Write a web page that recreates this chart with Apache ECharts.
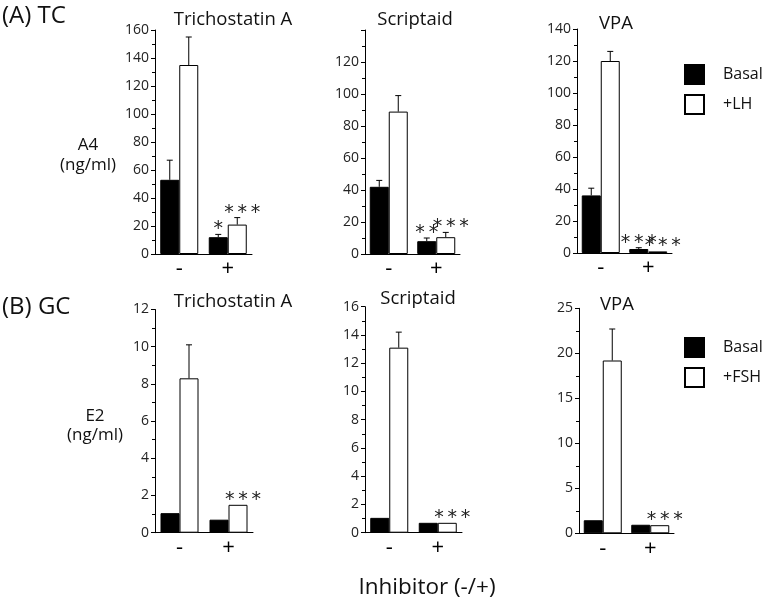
<!DOCTYPE html>
<html>
<head>
<meta charset="utf-8">
<script src="https://cdn.jsdelivr.net/npm/echarts@6/dist/echarts.min.js"></script>
<style>html,body{margin:0;padding:0;background:#fff;}#c{width:764px;height:606px;}</style>
</head>
<body>
<div id="c"></div>
<script>
// ---------- data ----------
const categories = ['-', '+'];
const inhibitors = ['Trichostatin A', 'Scriptaid', 'VPA'];

// (A) TC : A4 (ng/ml)
const tcTsaBasal = [53, 12];      const tcTsaBasalErr = [14, 2];
const tcTsaLH = [135, 21];        const tcTsaLHErr = [20, 5];
const tcScrBasal = [42, 8];       const tcScrBasalErr = [4, 2];
const tcScrLH = [89, 10.5];       const tcScrLHErr = [10, 3];
const tcVpaBasal = [36, 2.5];     const tcVpaBasalErr = [4.5, 0.8];
const tcVpaLH = [120, 1];         const tcVpaLHErr = [6, 0];
const tcStarsBasal = [['', '*'], ['', '**'], ['', '***']];
const tcStarsLH = [['', '***'], ['', '***'], ['', '***']];
const tcTicks = [{max: 160, step: 20}, {max: 140, step: 20, hideTop: true}, {max: 140, step: 20}];

// (B) GC : E2 (ng/ml)
const gcTsaBasal = [1.05, 0.7];   const gcTsaBasalErr = [0, 0];
const gcTsaFSH = [8.3, 1.5];      const gcTsaFSHErr = [1.8, 0];
const gcScrBasal = [1.05, 0.7];   const gcScrBasalErr = [0, 0];
const gcScrFSH = [13.1, 0.7];     const gcScrFSHErr = [1.1, 0];
const gcVpaBasal = [1.45, 0.95];  const gcVpaBasalErr = [0, 0];
const gcVpaFSH = [19.2, 0.9];     const gcVpaFSHErr = [3.5, 0];
const gcStarsBasal = [['', ''], ['', ''], ['', '']];
const gcStarsFSH = [['', '***'], ['', '***'], ['', '***']];
const gcTicks = [{max: 12, step: 2}, {max: 16, step: 2}, {max: 25, step: 5}];

// ---------- layout ----------
const FONT = '"Open Sans", Lato, sans-serif';
const grids = [
  {left: 155, top: 30,  width: 97, height: 224},
  {left: 365, top: 30,  width: 95, height: 224},
  {left: 577, top: 29,  width: 95, height: 224},
  {left: 155, top: 309.5, width: 98, height: 223.2},
  {left: 365, top: 306.7, width: 97, height: 226},
  {left: 579, top: 308.3, width: 95, height: 225}
];

const panels = [
  {b: tcTsaBasal, be: tcTsaBasalErr, s: tcTsaLH, se: tcTsaLHErr, sb: tcStarsBasal[0], ss: tcStarsLH[0], t: tcTicks[0], stim: '+LH'},
  {b: tcScrBasal, be: tcScrBasalErr, s: tcScrLH, se: tcScrLHErr, sb: tcStarsBasal[1], ss: tcStarsLH[1], t: tcTicks[1], stim: '+LH'},
  {b: tcVpaBasal, be: tcVpaBasalErr, s: tcVpaLH, se: tcVpaLHErr, sb: tcStarsBasal[2], ss: tcStarsLH[2], t: tcTicks[2], stim: '+LH'},
  {b: gcTsaBasal, be: gcTsaBasalErr, s: gcTsaFSH, se: gcTsaFSHErr, sb: gcStarsBasal[0], ss: gcStarsFSH[0], t: gcTicks[0], stim: '+FSH'},
  {b: gcScrBasal, be: gcScrBasalErr, s: gcScrFSH, se: gcScrFSHErr, sb: gcStarsBasal[1], ss: gcStarsFSH[1], t: gcTicks[1], stim: '+FSH'},
  {b: gcVpaBasal, be: gcVpaBasalErr, s: gcVpaFSH, se: gcVpaFSHErr, sb: gcStarsBasal[2], ss: gcStarsFSH[2], t: gcTicks[2], stim: '+FSH'}
];

const BW = 19;
const xAxes = [], yAxes = [], series = [];
panels.forEach((p, i) => {
  xAxes.push({
    gridIndex: i, type: 'category', data: categories,
    axisLine: {lineStyle: {color: '#000', width: 1}},
    axisTick: {show: false},
    axisLabel: {color: '#000', fontSize: 22, fontFamily: FONT, margin: 4}
  });
  yAxes.push({
    gridIndex: i, type: 'value', min: 0, max: p.t.max, interval: p.t.step,
    axisLine: {show: true, lineStyle: {color: '#000', width: 1}},
    axisTick: {show: true, length: 4, lineStyle: {color: '#000'}},
    minorTick: {show: true, splitNumber: 2, length: 3, lineStyle: {color: '#000'}},
    splitLine: {show: false},
    axisLabel: {
      color: '#222', fontSize: 14, fontFamily: FONT, margin: 6,
      formatter: (v) => (p.t.hideTop && v === p.t.max) ? '' : String(v)
    }
  });
  series.push({
    name: 'Basal', type: 'bar', xAxisIndex: i, yAxisIndex: i,
    data: p.b, barWidth: BW, barGap: '0%',
    itemStyle: {color: '#000', borderColor: '#000', borderWidth: 1},
    silent: true
  });
  series.push({
    name: p.stim, type: 'bar', xAxisIndex: i, yAxisIndex: i,
    data: p.s, barWidth: BW, barGap: '0%',
    itemStyle: {color: '#fff', borderColor: '#000', borderWidth: 1},
    silent: true
  });
  const errData = [];
  categories.forEach((c, k) => {
    errData.push([k, p.b[k], p.be[k], 0]);
    errData.push([k, p.s[k], p.se[k], 1]);
  });
  const starsFor = (k, side) => side === 0 ? p.sb[k] : p.ss[k];
  series.push({
    type: 'custom', xAxisIndex: i, yAxisIndex: i, z: 5, silent: true,
    data: errData,
    encode: {x: 0, y: 1},
    renderItem: (params, api) => {
      const k = api.value(0), v = api.value(1), e = api.value(2), side = api.value(3);
      const base = api.coord([k, v]);
      const top = api.coord([k, v + e]);
      const x = base[0] + (side === 0 ? -BW / 2 : BW / 2);
      const children = [];
      if (e > 0) {
        children.push({type: 'line', shape: {x1: x, y1: base[1], x2: x, y2: top[1]}, style: {stroke: '#000', lineWidth: 1}});
        children.push({type: 'line', shape: {x1: x - 3, y1: top[1], x2: x + 3, y2: top[1]}, style: {stroke: '#000', lineWidth: 1}});
      }
      const st = starsFor(k, side);
      if (st) {
        children.push({type: 'text', x: x + (side === 1 ? 5 : 0), y: top[1] - 5,
          style: {text: st.split('').join('\u2009'), fill: '#222', fontSize: 19, fontFamily: '"DejaVu Sans", sans-serif', textAlign: 'center', textVerticalAlign: 'middle'}});
      }
      return {type: 'group', children};
    }
  });
});

const texts = [
  ['(A) TC', 2, 16, 24, 'left'],
  ['(B) GC', 2, 307, 24, 'left'],
  ['A4', 88, 145, 17, 'center'],
  ['(ng/ml)', 88, 165, 17, 'center'],
  ['E2', 95, 416, 17, 'center'],
  ['(ng/ml)', 95, 435, 17, 'center'],
  [inhibitors[0], 233, 20, 18.5, 'center'],
  [inhibitors[1], 415, 20, 18.5, 'center'],
  [inhibitors[2], 616, 24, 18.5, 'center'],
  [inhibitors[0], 233, 302, 18.5, 'center'],
  [inhibitors[1], 418, 299, 18.5, 'center'],
  [inhibitors[2], 617, 305, 18.5, 'center'],
  ['Inhibitor (-/+)', 427, 588, 22.5, 'center']
];
const graphic = texts.map(([t, x, y, fs, al]) => ({
  type: 'text', x, y,
  style: {text: t, fill: '#111', fontSize: fs, fontFamily: FONT, textAlign: al, textVerticalAlign: 'middle'}
}));

const legendBase = {
  orient: 'vertical', icon: 'rect', itemWidth: 19, itemHeight: 19, itemGap: 9,
  selectedMode: false, padding: 0,
  textStyle: {color: '#111', fontSize: 16, fontFamily: FONT, padding: [0, 0, 0, 14]}
};

const chart = echarts.init(document.getElementById('c'), null, {renderer: 'canvas'});
chart.setOption({
  animation: false,
  backgroundColor: '#fff',
  grid: grids.map(g => Object.assign({containLabel: false}, g)),
  xAxis: xAxes,
  yAxis: yAxes,
  legend: [
    Object.assign({}, legendBase, {left: 684, top: 64, data: ['Basal', '+LH']}),
    Object.assign({}, legendBase, {left: 684, top: 337, data: ['Basal', '+FSH']})
  ],
  graphic,
  series
});
</script>
</body>
</html>
